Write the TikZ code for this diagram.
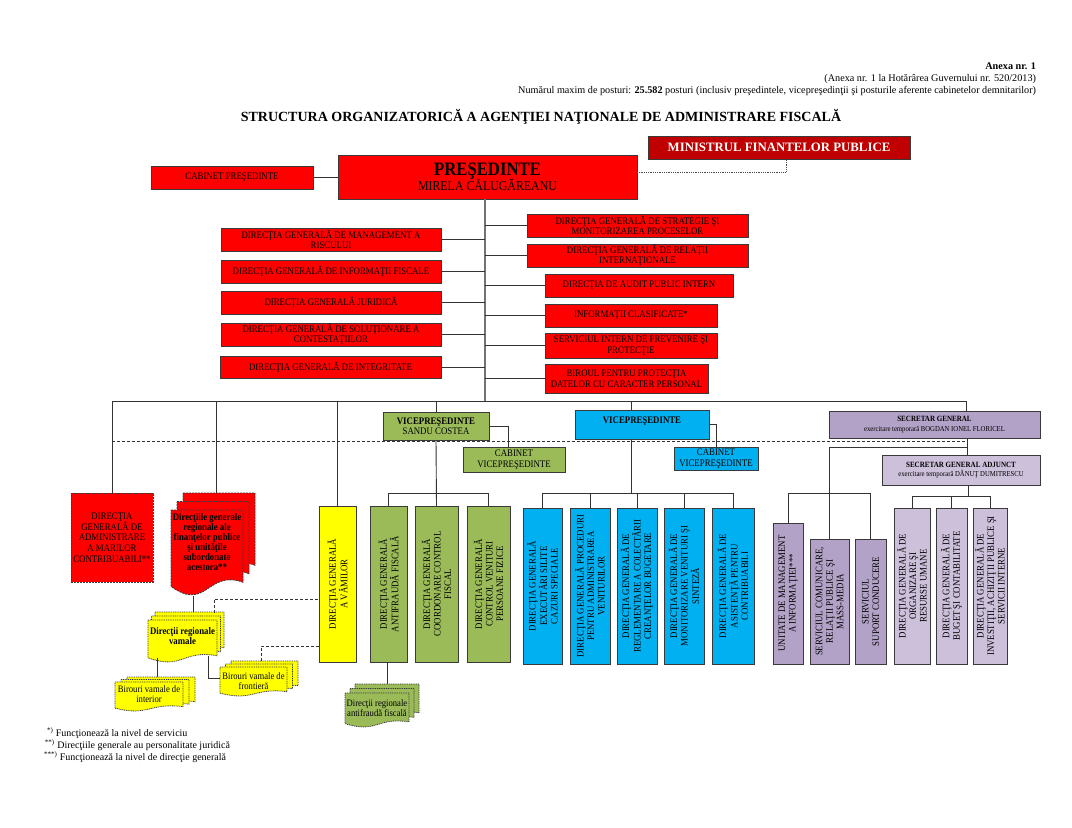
\documentclass[tikz,border=0pt]{standalone}
\usepackage{fontspec}
\setmainfont{Liberation Serif}
\newfontfamily\condf{Liberation Serif}[FakeStretch=0.88]
\usetikzlibrary{calc}
\definecolor{cred}{HTML}{FF0000}
\definecolor{cdred}{HTML}{C00000}
\definecolor{cgrn}{HTML}{9BBB59}
\definecolor{cblu}{HTML}{00B0F0}
\definecolor{cyel}{HTML}{FFFF00}
\definecolor{cpur}{HTML}{B3A2C7}
\definecolor{clpur}{HTML}{CCC0DA}
\definecolor{edgec}{HTML}{3A3A3A}
\definecolor{linec}{HTML}{333333}
\newcommand\bxf{\condf\fontsize{10}{10.5}\selectfont}
\newcommand\rbox[7]{\node[box,#6,minimum width={(#4)-(#2)},minimum height={(#5)-(#3)}] (#1) at ({((#2)+(#4))/2},{((#3)+(#5))/2}) {#7};}
\newcommand\docsh[5]{\path[#5] ({#1},{#2}) -- ({#1+#3},{#2}) -- ({#1+#3},{#2+0.85*#4}) .. controls ({#1+0.5*#3},{#2+0.7*#4}) and ({#1+0.5*#3},{#2+1.2*#4}) .. ({#1},{#2+0.9*#4}) -- cycle;}
\newcommand\mdoc[7]{\docsh{#1+2*#5}{#2-2*#6}{#3}{#4}{#7}\docsh{#1+#5}{#2-#6}{#3}{#4}{#7}\docsh{#1}{#2}{#3}{#4}{#7}}
\begin{document}
\begin{tikzpicture}[x=1pt,y=-1pt,
 box/.style={draw=edgec, line width=0.8pt, inner sep=1pt, outer sep=0pt, align=center, font=\bxf},
 conn/.style={draw=linec, line width=0.9pt},
 trunkl/.style={draw=black!55, line width=1.4pt},
 coltext/.style={rotate=90, align=center, font=\bxf, inner sep=0pt},
 txt/.style={inner sep=0pt, outer sep=0pt},
 reddoc/.style={fill=cred, draw=edgec, line width=0.8pt, dash pattern=on 2pt off 1pt},
 yeldoc/.style={fill=cyel, draw=edgec, line width=0.8pt, dash pattern=on 1pt off 0.8pt},
 grndoc/.style={fill=cgrn, draw=edgec, line width=0.8pt, dash pattern=on 1pt off 0.8pt},
]
\path[use as bounding box, fill=white] (0,0) rectangle (1072,828);

% header
\node[txt, anchor=east, font=\fontsize{10.2}{12}\selectfont\bfseries] (anexa) at (1036,66) {Anexa nr. 1};
\node[txt, anchor=east, font=\fontsize{10.2}{12}\selectfont] (anexb) at (1036,79) {(Anexa nr. 1 la Hotărârea Guvernului nr. 520/2013)};
\node[txt, anchor=east, font=\fontsize{10.2}{12}\selectfont] (post) at (1036,91) {Numărul maxim de posturi: \textbf{25.582} posturi (inclusiv preşedintele, vicepreşedinţii şi posturile aferente cabinetelor demnitarilor)};
\node[txt, font=\fontsize{14}{16}\selectfont\bfseries] (title) at (541,117) {STRUCTURA ORGANIZATORICĂ A AGENŢIEI NAŢIONALE DE ADMINISTRARE FISCALĂ};

% top
\rbox{mfp}{648}{136}{910}{159}{fill=cdred, text=white, font=\fontsize{12.8}{14}\selectfont\bfseries}{MINISTRUL FINANTELOR PUBLICE}
\rbox{pres}{338}{155}{637}{199}{fill=cred}{{\condf\fontsize{19}{20}\selectfont\bfseries PREŞEDINTE}\\[-1pt]{\condf\fontsize{13.5}{15}\selectfont MIRELA CĂLUGĂREANU}}
\rbox{cab}{151}{166}{313}{189}{fill=cred}{CABINET PREŞEDINTE}
\draw[conn] (cab.east) -- (pres.west |- cab.east);
\coordinate (mfx) at (786,0);
\draw[densely dotted, draw=black!70, line width=0.8pt] ([yshift=5pt]pres.east) -- ([yshift=5pt]pres.east -| mfx) -- (mfx |- mfp.south);

% staff red boxes
\rbox{l1}{221}{228}{441}{251}{fill=cred}{DIRECŢIA GENERALĂ DE MANAGEMENT A\\RISCULUI}
\rbox{l2}{221}{260}{441}{283}{fill=cred}{DIRECŢIA GENERALĂ DE INFORMAŢII FISCALE}
\rbox{l3}{221}{291}{441}{314}{fill=cred}{DIRECŢIA GENERALĂ JURIDICĂ}
\rbox{l4}{221}{323}{441}{346}{fill=cred}{DIRECŢIA GENERALĂ DE SOLUŢIONARE A\\CONTESTAŢIILOR}
\rbox{l5}{220}{356}{441}{378}{fill=cred}{DIRECŢIA GENERALĂ DE INTEGRITATE}
\rbox{r1}{527}{214}{748}{237}{fill=cred}{DIRECŢIA GENERALĂ DE STRATEGIE ŞI\\MONITORIZAREA PROCESELOR}
\rbox{r2}{527}{244}{748}{267}{fill=cred}{DIRECŢIA GENERALĂ DE RELAŢII\\INTERNAŢIONALE}
\rbox{r3}{545}{274}{733}{297}{fill=cred}{DIRECŢIA DE AUDIT PUBLIC INTERN}
\rbox{r4}{545}{304}{717}{327}{fill=cred}{INFORMAŢII CLASIFICATE*}
\rbox{r5}{545}{333}{717}{358}{fill=cred}{SERVICIUL INTERN DE PREVENIRE ŞI\\PROTECŢIE}
\rbox{r6}{545}{364}{708}{393}{fill=cred}{BIROUL PENTRU PROTECŢIA\\DATELOR CU CARACTER PERSONAL}

\coordinate (tk) at (485,401);
\draw[trunkl] (tk |- pres.south) -- (tk);
\foreach \b in {l1,l2,l3,l4,l5} {\draw[conn] (\b.east) -- (\b.east -| tk);}
\foreach \b in {r1,r2,r3,r4,r5,r6} {\draw[conn] (\b.west) -- (\b.west -| tk);}

% level 2
\rbox{dgamc}{71}{493}{153}{582}{fill=cred, dash pattern=on 2pt off 1pt, font=\condf\fontsize{10}{10.7}\selectfont}{DIRECŢIA\\GENERALĂ DE\\ADMINISTRARE\\A MARILOR\\CONTRIBUABILI**}
\rbox{vpg}{383}{412}{489}{440}{fill=cgrn}{\textbf{VICEPREŞEDINTE}\\SANDU COSTEA}
\rbox{cabg}{463}{447}{565}{472}{fill=cgrn}{CABINET\\VICEPREŞEDINTE}
\rbox{vpb}{575}{410}{709}{439}{fill=cblu}{}
\node[txt, font=\bxf\bfseries] (vpbt) at (642,421) {VICEPREŞEDINTE};
\rbox{cabb}{674}{447}{758}{470}{fill=cblu}{CABINET\\VICEPREŞEDINTE}
\rbox{sg}{829}{411}{1040}{438}{fill=cpur, font=\condf\fontsize{8}{9.5}\selectfont}{\textbf{SECRETAR GENERAL}\\{\fontsize{7.6}{9.5}\selectfont exercitare temporară BOGDAN IONEL FLORICEL}}
\rbox{sga}{882}{455}{1040}{485}{fill=clpur, font=\condf\fontsize{8}{9.5}\selectfont}{\textbf{SECRETAR GENERAL ADJUNCT}\\{\fontsize{7.6}{9.5}\selectfont exercitare temporară DĂNUŢ DUMITRESCU}}

% columns
\rbox{y1}{319}{506}{356}{662}{fill=cyel}{}
\rbox{g1}{370}{506}{407}{662}{fill=cgrn}{}
\rbox{g2}{415}{506}{458}{662}{fill=cgrn}{}
\rbox{g3}{467}{506}{510}{662}{fill=cgrn}{}
\rbox{b1}{523}{508}{562}{664}{fill=cblu}{}
\rbox{b2}{570}{508}{610}{664}{fill=cblu}{}
\rbox{b3}{617}{508}{657}{664}{fill=cblu}{}
\rbox{b4}{664}{508}{704}{664}{fill=cblu}{}
\rbox{b5}{712}{508}{754}{664}{fill=cblu}{}
\rbox{p1}{773}{523}{803}{664}{fill=cpur}{}
\rbox{p2}{810}{539}{849}{664}{fill=cpur}{}
\rbox{p3}{855}{539}{886}{664}{fill=cpur}{}
\rbox{p4}{894}{508}{930}{664}{fill=clpur}{}
\rbox{p5}{936}{508}{967}{664}{fill=clpur}{}
\rbox{p6}{973}{508}{1007}{664}{fill=clpur}{}
\node[coltext] (y1t) at (y1) {DIRECŢIA GENERALĂ\\A VĂMILOR};
\node[coltext] (g1t) at (g1) {DIRECŢIA GENERALĂ\\ANTIFRAUDĂ FISCALĂ};
\node[coltext] (g2t) at (g2) {DIRECŢIA GENERALĂ\\COORDONARE CONTROL\\FISCAL};
\node[coltext] (g3t) at (g3) {DIRECŢIA GENERALĂ\\CONTROL VENITURI\\PERSOANE FIZICE};
\node[coltext] (b1t) at (b1) {DIRECŢIA GENERALĂ\\EXECUTĂRI SILITE\\CAZURI SPECIALE};
\node[coltext] (b2t) at (b2) {DIRECŢIA GENERALĂ PROCEDURI\\PENTRU ADMINISTRAREA\\VENITURILOR};
\node[coltext] (b3t) at (b3) {DIRECŢIA GENERALĂ DE\\REGLEMENTARE A COLECTĂRII\\CREANŢELOR BUGETARE};
\node[coltext] (b4t) at (b4) {DIRECŢIA GENERALĂ DE\\MONITORIZARE VENITURI ŞI\\SINTEZĂ};
\node[coltext] (b5t) at (b5) {DIRECŢIA GENERALĂ DE\\ASISTENŢĂ PENTRU\\CONTRIBUABILI};
\node[coltext] (p1t) at (p1) {UNITATE DE MANAGEMENT\\A INFORMAŢIEI***};
\node[coltext] (p2t) at (p2) {SERVICIUL COMUNICARE,\\RELAŢII PUBLICE ŞI\\MASS-MEDIA};
\node[coltext] (p3t) at (p3) {SERVICIUL\\SUPORT CONDUCERE};
\node[coltext] (p4t) at (p4) {DIRECŢIA GENERALĂ DE\\ORGANIZARE ŞI\\RESURSE UMANE};
\node[coltext] (p5t) at (p5) {DIRECŢIA GENERALĂ DE\\BUGET ŞI CONTABILITATE};
\node[coltext] (p6t) at (p6) {DIRECŢIA GENERALĂ DE\\INVESTIŢII, ACHIZIŢII PUBLICE ŞI\\SERVICII INTERNE};

% document shapes
\mdoc{171}{510}{72}{85}{6}{8.5}{reddoc}
\node[txt, align=center, font=\condf\fontsize{10}{10}\selectfont\bfseries] (dgr) at (207,542) {Direcţiile generale\\regionale ale\\finanţelor publice\\şi unităţile\\subordonate\\acestora**};
\mdoc{148}{620}{69}{42}{3.5}{4}{yeldoc}
\node[txt, align=center, font=\condf\fontsize{10}{10.5}\selectfont\bfseries] (drv) at (182.5,636) {Direcţii regionale\\vamale};
\mdoc{220}{667}{67}{29}{5.5}{3}{yeldoc}
\node[txt, align=center, font=\condf\fontsize{9.8}{10}\selectfont] (bvf) at (253.5,681) {Birouri vamale de\\frontieră};
\mdoc{115}{682}{68}{29}{6}{2.5}{yeldoc}
\node[txt, align=center, font=\condf\fontsize{9.8}{10}\selectfont] (bvi) at (149,694) {Birouri vamale de\\interior};
\mdoc{345}{693}{64}{34}{5}{4.5}{grndoc}
\node[txt, align=center, font=\condf\fontsize{9.8}{10}\selectfont] (dra) at (377,708) {Direcţii regionale\\antifraudă fiscală};

\coordinate (dgrtop) at (216,493);
\coordinate (dgrbot) at (193,596);
\coordinate (drvtop) at (193,612);
\coordinate (drvb1) at (157,658);
\coordinate (bvitop) at (157,677);
\coordinate (drvb2) at (208,656);
\coordinate (bvfl) at (220,678);
\coordinate (drvd) at (214,613);
\coordinate (bvfd) at (261,661);
\coordinate (dratop) at (387,684);

% bus and connectors
\coordinate (yb1) at (0,493);
\coordinate (yb2) at (0,496);
\coordinate (busL) at (dgamc.north |- tk);
\coordinate (busR) at (966,401);
\draw[conn] (busL) -- (busR);
\draw[conn, dash pattern=on 3pt off 2pt] (busL |- 0,441) -- (967,441);
\draw[conn] (busL) -- (dgamc.north);
\draw[conn] (dgrtop |- tk) -- (dgrtop);
\draw[conn] (y1.north |- tk) -- (y1.north);
\draw[conn] (vpg.north |- tk) -- (vpg.north);
\coordinate (vbx) at (631,401);
\draw[conn] (vbx) -- (vbx |- vpb.north);
\draw[conn] (busR) -- (busR |- sg.north);

\coordinate (cgx) at (508,447);
\draw[conn] (vpg.east) -- (vpg.east -| cgx) -- (cgx);
\coordinate (cbx) at (716,447);
\draw[conn] (vpb.east) -- (vpb.east -| cbx) -- (cbx);

% green
\draw[conn] (vpg.south) -- (g2.north);
\draw[conn] (g1.north |- yb1) -- (g3.north |- yb1);
\draw[conn] (g1.north |- yb1) -- (g1.north);
\draw[conn] (g3.north |- yb1) -- (g3.north);
\draw[conn] (g1.south -| dratop) -- (dratop);
% blue
\draw[conn] (vbx |- vpb.south) -- (vbx |- yb1);
\draw[conn] (b1.north |- yb1) -- (b5.north |- yb1);
\foreach \b in {b1,b2,b3,b4,b5} {\draw[conn] (\b.north |- yb1) -- (\b.north);}
% purple
\coordinate (sgx) at (967,447);
\draw[conn] (sgx |- sg.south) -- (sgx |- sga.north);
\draw[conn] (sgx) -- (sgx -| p2.north) -- (p2.north);
\draw[conn] (p1.north |- yb1) -- (p3.north |- yb1);
\draw[conn] (p1.north |- yb1) -- (p1.north);
\draw[conn] (p3.north |- yb1) -- (p3.north);
\coordinate (sgax) at (968,485);
\draw[conn] (sgax) -- (sgax |- yb2);
\draw[conn] (p4.north |- yb2) -- (p6.north |- yb2);
\foreach \b in {p4,p5,p6} {\draw[conn] (\b.north |- yb2) -- (\b.north);}
% customs
\draw[conn] (dgrbot) -- (drvtop);
\draw[conn] (drvb1) -- (bvitop);
\draw[conn] (drvb2) -- (drvb2 |- bvfl) -- (bvfl);
\draw[conn, dash pattern=on 3pt off 2pt] (drvd) -- (drvd |- 0,599) -- (y1.west |- 0,599);
\draw[conn, dash pattern=on 3pt off 2pt] (bvfd) -- (bvfd |- 0,646) -- (y1.west |- 0,646);

% footnotes
\node[txt, anchor=west, font=\fontsize{10}{11}\selectfont] (fn1) at (47,733) {\textsuperscript{*)} Funcţionează la nivel de serviciu};
\node[txt, anchor=west, font=\fontsize{10}{11}\selectfont] (fn2) at (45,745) {\textsuperscript{**)} Direcţiile generale au personalitate juridică};
\node[txt, anchor=west, font=\fontsize{10}{11}\selectfont] (fn3) at (44,757) {\textsuperscript{***)} Funcţionează la nivel de direcţie generală};
\end{tikzpicture}
\end{document}
